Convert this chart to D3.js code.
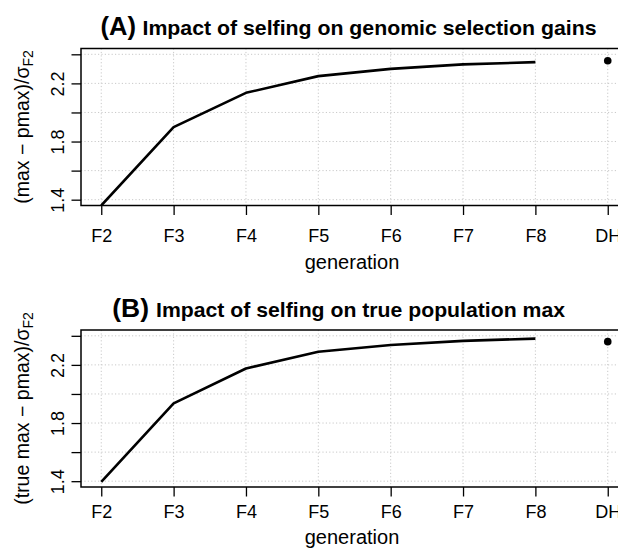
<!DOCTYPE html>
<html>
<head>
<meta charset="utf-8">
<script src="https://cdn.jsdelivr.net/npm/d3@7"></script>
<style>
  html, body { margin: 0; padding: 0; background: #fff; }
  svg { display: block; font-family: "Liberation Sans", Arial, Helvetica, sans-serif; }
</style>
</head>
<body>
<svg id="chart" width="618" height="548"></svg>
<script>
// Generations along the x axis
const generations = ["F2", "F3", "F4", "F5", "F6", "F7", "F8", "DH"];
const selfedGenerations = ["F2", "F3", "F4", "F5", "F6", "F7", "F8"];

// (A) standardized genomic selection gain, (max - pmax)/sigma_F2
const gainSelfing = [1.36, 1.899, 2.135, 2.25, 2.30, 2.331, 2.346];
const gainDH = 2.356;

// (B) standardized true population max, (true max - pmax)/sigma_F2
const trueMaxSelfing = [1.395, 1.935, 2.175, 2.29, 2.337, 2.365, 2.381];
const trueMaxDH = 2.36;

// y axis ticks and the ones that carry a label
const yTicks = [1.4, 1.6, 1.8, 2.0, 2.2, 2.4];
const yTickLabels = [1.4, 1.8, 2.2];
const yLimits = [1.4, 2.4];

const svg = d3.select("#chart");
svg.append("rect").attr("width", 618).attr("height", 548).attr("fill", "#fff");

const plotLeft = 81, plotRight = 628;

function drawPanel(cfg) {
  const g = svg.append("g");
  const top = cfg.top, bottom = cfg.top + 157;

  // R-style 4% padding around the limits
  const pad = (yLimits[1] - yLimits[0]) * 0.04;
  const y = d3.scaleLinear()
    .domain([yLimits[0] - pad, yLimits[1] + pad])
    .range([bottom, top]);
  const x = d3.scalePoint()
    .domain(generations)
    .range([plotLeft, plotRight])
    .padding(0.28);

  // dotted grid
  const grid = g.append("g")
    .attr("stroke", "#c9c9c9")
    .attr("stroke-width", 1)
    .attr("stroke-dasharray", "1.2,2.2");
  grid.selectAll("line.h").data(yTicks).join("line")
    .attr("x1", plotLeft).attr("x2", plotRight)
    .attr("y1", d => y(d)).attr("y2", d => y(d));
  grid.selectAll("line.v").data(generations).join("line")
    .attr("y1", top).attr("y2", bottom)
    .attr("x1", d => x(d)).attr("x2", d => x(d));

  // clip marks to the plotting region
  const clipId = "clip-" + cfg.id;
  svg.append("clipPath").attr("id", clipId)
    .append("rect").attr("x", plotLeft).attr("y", top)
    .attr("width", plotRight - plotLeft).attr("height", bottom - top);

  const line = d3.line()
    .x((d, i) => x(selfedGenerations[i]))
    .y(d => y(d));
  g.append("path")
    .datum(cfg.series)
    .attr("clip-path", `url(#${clipId})`)
    .attr("fill", "none")
    .attr("stroke", "#000")
    .attr("stroke-width", 2.6)
    .attr("stroke-linejoin", "round")
    .attr("d", line);

  g.append("circle")
    .attr("cx", x("DH"))
    .attr("cy", y(cfg.dh))
    .attr("r", 3.8)
    .attr("fill", "#000");

  // x axis
  const xAxis = d3.axisBottom(x).tickSize(9.5).tickPadding(0).tickSizeOuter(0);
  const gx = g.append("g").attr("transform", `translate(0,${bottom})`).call(xAxis);
  gx.select(".domain").remove();
  gx.selectAll(".tick line").attr("stroke", "#000").attr("stroke-width", 1.3);
  gx.selectAll(".tick text")
    .attr("y", cfg.xLabelBase - bottom)
    .attr("dy", 0)
    .attr("fill", "#000")
    .style("font-size", "18px");

  // y axis
  const yAxis = d3.axisLeft(y).tickValues(yTicks).tickSize(9.5).tickSizeOuter(0)
    .tickFormat(d => yTickLabels.some(v => Math.abs(v - d) < 1e-9) ? d3.format(".1f")(d) : "");
  const gy = g.append("g").attr("transform", `translate(${plotLeft},0)`).call(yAxis);
  gy.select(".domain").remove();
  gy.selectAll(".tick line").attr("stroke", "#000").attr("stroke-width", 1.3);
  gy.selectAll(".tick text")
    .attr("x", null).attr("dy", null)
    .attr("text-anchor", "middle")
    .attr("fill", "#000")
    .attr("transform", "translate(-17.5,0) rotate(-90)")
    .style("font-size", "18px");

  // frame
  g.append("rect")
    .attr("x", plotLeft).attr("y", top)
    .attr("width", plotRight - plotLeft).attr("height", bottom - top)
    .attr("fill", "none").attr("stroke", "#000").attr("stroke-width", 1.5);

  // axis titles
  g.append("text")
    .attr("x", 352).attr("y", cfg.genBase)
    .attr("text-anchor", "middle")
    .attr("fill", "#000")
    .style("font-size", "20px")
    .text("generation");

  const yl = g.append("text")
    .attr("transform", `translate(28.5,${(top + bottom) / 2}) rotate(-90)`)
    .attr("text-anchor", "middle")
    .attr("fill", "#000")
    .style("font-size", "19.5px");
  yl.append("tspan").text(cfg.yPrefix + "/σ");
  yl.append("tspan").attr("dy", "0.3em").style("font-size", "14px").text("F2");

  // panel title
  const t = g.append("text").attr("y", cfg.titleBase).attr("fill", "#000").style("font-weight", "bold");
  t.append("tspan").attr("x", cfg.tagX).style("font-size", "25px")
    .attr("textLength", cfg.tagW).attr("lengthAdjust", "spacingAndGlyphs")
    .text(cfg.tag);
  t.append("tspan").attr("x", cfg.titleX).style("font-size", "21px")
    .attr("textLength", cfg.titleW).attr("lengthAdjust", "spacingAndGlyphs")
    .text(cfg.title);
}

drawPanel({
  id: "a", top: 48.5, series: gainSelfing, dh: gainDH,
  xLabelBase: 242, genBase: 268.5,
  yPrefix: "(max − pmax)",
  titleBase: 35, tag: "(A)", tagX: 100.5, tagW: 35.5,
  title: "Impact of selfing on genomic selection gains", titleX: 142.5, titleW: 454
});

drawPanel({
  id: "b", top: 330, series: trueMaxSelfing, dh: trueMaxDH,
  xLabelBase: 518, genBase: 544,
  yPrefix: "(true max − pmax)",
  titleBase: 316.5, tag: "(B)", tagX: 112.3, tagW: 36.7,
  title: "Impact of selfing on true population max", titleX: 156, titleW: 409
});
</script>
</body>
</html>
